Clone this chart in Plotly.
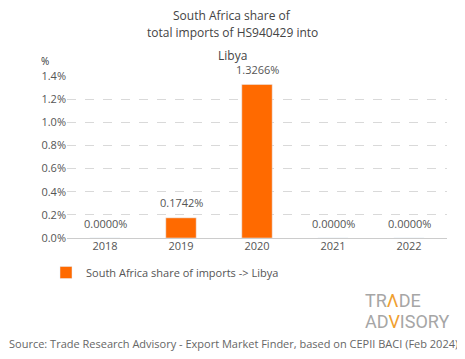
import plotly.graph_objects as go

years = ["2018", "2019", "2020", "2021", "2022"]
share_pct = [0.0, 0.1742, 1.3266, 0.0, 0.0]
labels = ["0.0000%", "0.1742%", "1.3266%", "0.0000%", "0.0000%"]
tick_vals = [0.0, 0.2, 0.4, 0.6, 0.8, 1.0, 1.2, 1.4]
tick_text = ["0.0%", "0.2%", "0.4%", "0.6%", "0.8%", "1.0%", "1.2%", "1.4%"]
series_name = "South Africa share of imports -> Libya"

FONT = "Open Sans, Lato, sans-serif"
ORANGE = "#ff6a00"
TEXT = "#555555"

# figure is placed with an 8px body margin in the page
OFF = 8
W, H = 465 - OFF, 359 - OFF
L, R, T, B = 67 - OFF, 18, 76 - OFF, 121
PW, PH = W - L - R, H - T - B

def xpix(px):
    return (px - OFF - L) / PW

def ypix(py):
    return (H - B - (py - OFF)) / PH

fig = go.Figure()
fig.add_trace(go.Bar(
    x=years, y=share_pct, name=series_name,
    marker_color=ORANGE,
    cliponaxis=False,
))

# value labels above each bar (category index positions on the x axis)
for i, (v, lab) in enumerate(zip(share_pct, labels)):
    fig.add_annotation(x=i, y=v, xref="x", yref="y", text=lab, showarrow=False,
                       yanchor="middle", yshift=15,
                       font=dict(size=11, color=TEXT, family=FONT))

fig.update_layout(
    width=W, height=H,
    margin=dict(l=L, r=R, t=T, b=B),
    paper_bgcolor="white", plot_bgcolor="white",
    font=dict(family=FONT, size=11, color=TEXT),
    bargap=0.6,
    showlegend=True,
    legend=dict(orientation="h", x=xpix(46), xanchor="left", y=ypix(258), yanchor="top",
                font=dict(size=11, color=TEXT), itemwidth=30),
    xaxis=dict(type="category", showgrid=False, showline=False, ticks="",
               tickfont=dict(size=11, color=TEXT)),
    yaxis=dict(range=[0, 1.4], tickvals=tick_vals, ticktext=tick_text,
               showgrid=True, gridcolor="#d9d9d9", griddash="dash", gridwidth=1,
               zeroline=True, zerolinecolor="#cccccc", zerolinewidth=1,
               showline=False, ticks="", tickfont=dict(size=11, color=TEXT)),
)

for txt, py in [("South Africa share of", 15), ("total imports of HS940429 into", 33), ("Libya", 55)]:
    fig.add_annotation(text=txt, xref="paper", x=xpix(232), xanchor="center",
                       yref="paper", y=ypix(py), yanchor="middle",
                       showarrow=False, font=dict(size=12, color="#444444", family=FONT))

fig.add_annotation(text="%", xref="paper", yref="paper", x=xpix(45), y=ypix(61),
                   xanchor="center", yanchor="middle",
                   showarrow=False, font=dict(size=10, color="#333333", family=FONT))

fig.add_annotation(text="TR<span style='color:#f0a030'>Λ</span>DE", xref="paper", yref="paper",
                   x=xpix(363), xanchor="left", y=ypix(300), yanchor="middle", showarrow=False,
                   font=dict(size=18, color="#a6a6a6", family="Roboto, sans-serif"))
fig.add_annotation(text="AD<span style='color:#f0a030'>V</span>ISORY", xref="paper", yref="paper",
                   x=xpix(363), xanchor="left", y=ypix(321), yanchor="middle", showarrow=False,
                   font=dict(size=18, color="#a6a6a6", family="Roboto, sans-serif"))

fig.add_annotation(text="Source: Trade Research Advisory - Export Market Finder, based on CEPII BACI (Feb 2024)",
                   xref="paper", yref="paper", x=xpix(233), xanchor="center", y=ypix(343),
                   yanchor="middle", showarrow=False, font=dict(size=11, color="#666666", family=FONT))

fig.write_html("out.html")
